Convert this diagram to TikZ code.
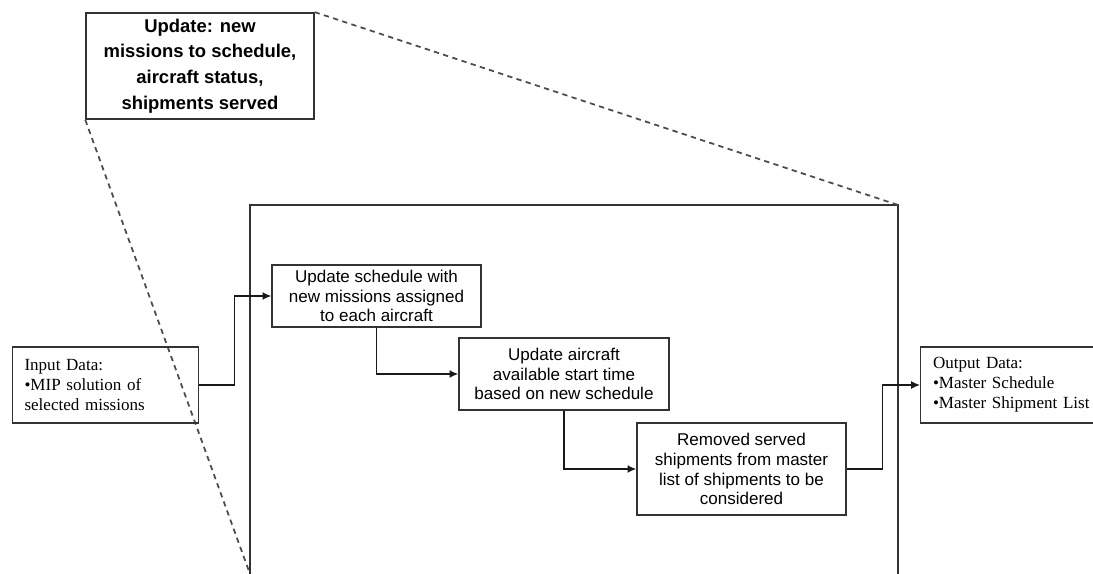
\documentclass[tikz,border=0pt]{standalone}
\usepackage{fontspec}
\setmainfont{Liberation Serif}
\setsansfont{Liberation Sans}
\usetikzlibrary{positioning,arrows.meta}

\begin{document}
\begin{tikzpicture}[x=0.02cm,y=-0.02cm,
    stepbox/.style={draw=black!80,line width=0.8pt,align=center,inner sep=2pt,
      font=\sffamily\fontsize{9.7}{11.3}\selectfont},
    databox/.style={draw=black!80,line width=0.8pt,align=left,inner xsep=7pt,
      text width=#1,font=\rmfamily\fontsize{9.7}{11.3}\selectfont},
    flow/.style={-{Latex[length=5pt,width=4.5pt]},line width=0.8pt,black!90},
    zoomline/.style={line width=1pt,black!70,dash pattern=on 3pt off 2.5pt}]
 \useasboundingbox (0,0) rectangle (1093,574);
 % the frame that is zoomed out of the update box
 \coordinate (frameNW) at (250,205);
 \coordinate (frameNE) at (898,205);
 \coordinate (frameSW) at (250,574);
 \coordinate (frameSE) at (898,574);
 \draw[line width=0.8pt,black!80] (frameSW) -- (frameNW) -- (frameNE) -- (frameSE);
 \draw[line width=0.4pt,black!25] (frameSW) -- (frameSE);

 \node[draw=black!80,line width=0.8pt,minimum width=4.56cm,minimum height=2.08cm,
   align=center,font=\sffamily\bfseries\fontsize{10.5}{14.7}\selectfont] (upd) at (200,66)
  {Update: new\\ missions to schedule,\\ aircraft status,\\ shipments served};
 \draw[zoomline] (upd.north east) -- (frameNE);
 \draw[zoomline] (upd.south west) -- (frameSW);

 \node[databox=3.24cm,minimum height=1.52cm] (inp) at (105.5,385)
  {Input Data:\\ \textbullet MIP solution of\\ selected missions};
 \node[stepbox,minimum width=4.18cm,minimum height=1.24cm] (sched) at (376.5,296)
  {Update schedule with\\ new missions assigned\\ to each aircraft};
 \node[stepbox,minimum width=4.2cm,minimum height=1.44cm] (avail) at (564,374)
  {Update aircraft\\ available start time\\ based on new schedule};
 \node[stepbox,minimum width=4.18cm,minimum height=1.84cm] (served) at (741.5,469)
  {Removed served\\ shipments from master\\ list of shipments to be\\ considered};
 \node[databox=3.4cm,minimum height=1.52cm] (outp) at (1018,385)
  {Output Data:\\ \textbullet Master Schedule\\ \textbullet Master Shipment List};

 \draw[flow] (inp.east) -- ++(35,0) |- (sched.west);
 \draw[flow] (sched.south) |- (avail.west);
 \draw[flow] (avail.south) |- (served.west);
 \draw[flow] (served.east) -- ++(36,0) |- (outp.west);
\end{tikzpicture}
\end{document}
